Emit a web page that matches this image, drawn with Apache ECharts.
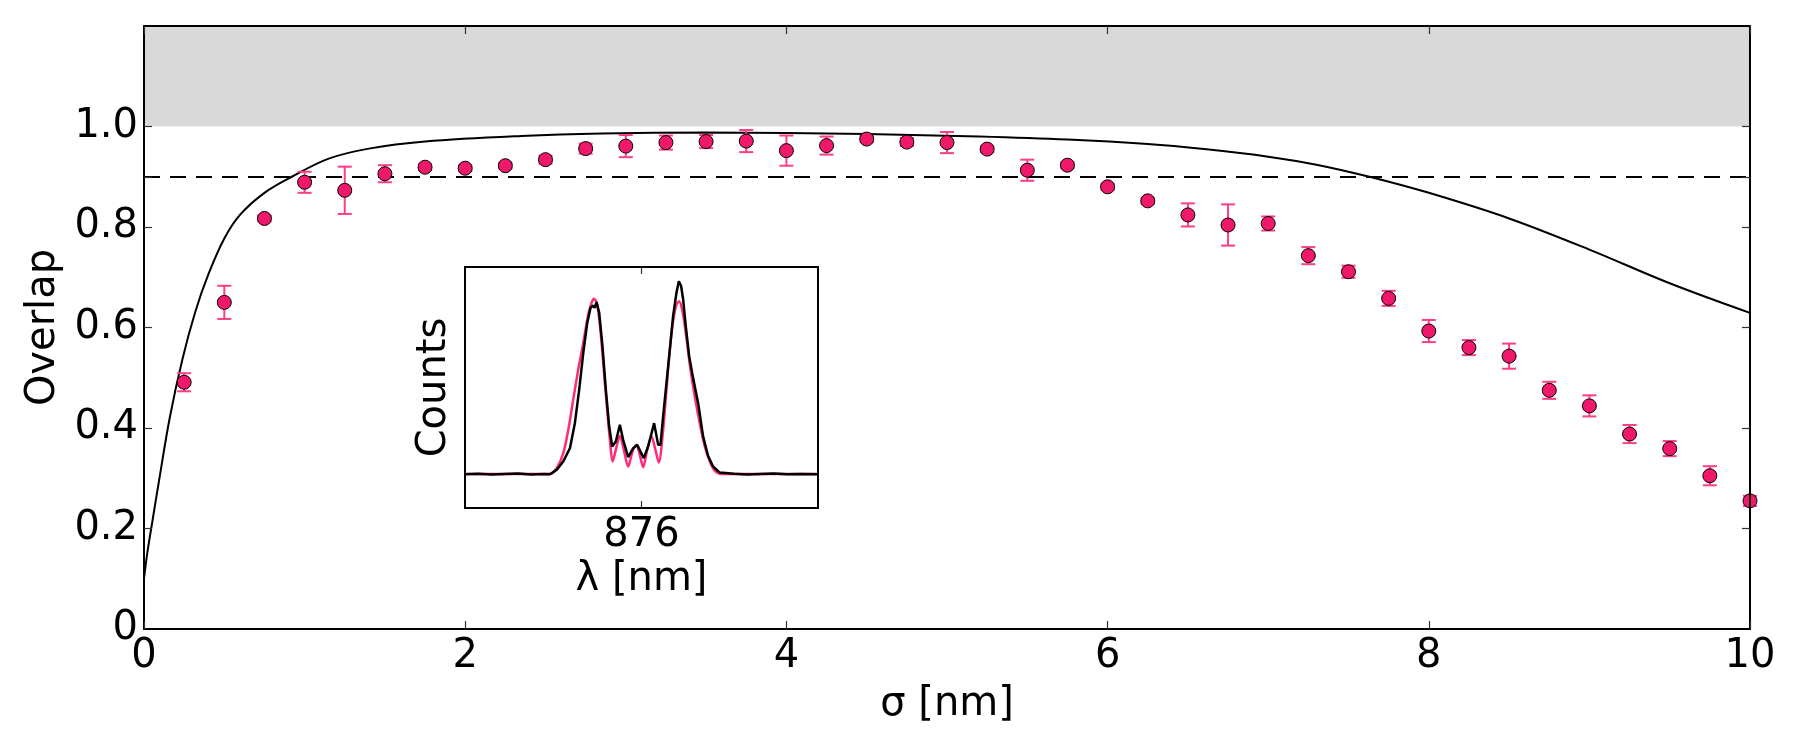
<!DOCTYPE html>
<html>
<head>
<meta charset="utf-8">
<script src="https://cdn.jsdelivr.net/npm/echarts@6/dist/echarts.min.js"></script>
<style>
  html, body { margin: 0; padding: 0; background: #fff; }
  #chart { width: 1800px; height: 750px; }
</style>
</head>
<body>
<div id="chart"></div>
<script>
// measured overlap vs sigma (with error bars)
var sigma = [0.25, 0.5, 0.75, 1.0, 1.25, 1.5, 1.75, 2.0, 2.25, 2.5, 2.75, 3.0, 3.25, 3.5, 3.75, 4.0, 4.25, 4.5, 4.75, 5.0,
             5.25, 5.5, 5.75, 6.0, 6.25, 6.5, 6.75, 7.0, 7.25, 7.5, 7.75, 8.0, 8.25, 8.5, 8.75, 9.0, 9.25, 9.5, 9.75, 10.0];
var overlap = [0.491, 0.650, 0.817, 0.889, 0.873, 0.906, 0.919, 0.917, 0.922, 0.934, 0.956, 0.961, 0.968, 0.970, 0.971, 0.952, 0.962, 0.975, 0.969, 0.968,
               0.955, 0.913, 0.923, 0.880, 0.852, 0.824, 0.804, 0.807, 0.743, 0.711, 0.658, 0.593, 0.560, 0.543, 0.475, 0.444, 0.388, 0.359, 0.305, 0.255];
var overlapErr = [0.018, 0.033, 0.006, 0.021, 0.047, 0.017, 0.006, 0.006, 0.006, 0.008, 0.010, 0.022, 0.014, 0.013, 0.022, 0.030, 0.018, 0.006, 0.008, 0.021,
                  0.006, 0.021, 0.006, 0.006, 0.006, 0.023, 0.041, 0.014, 0.017, 0.012, 0.015, 0.022, 0.015, 0.025, 0.017, 0.021, 0.018, 0.015, 0.019, 0.010];

// theory curve
var fitSigma = [0, 0.02, 0.05, 0.09, 0.16, 0.24, 0.32, 0.40, 0.50, 0.60, 0.75, 0.92, 1.15, 1.40, 1.75, 2.35, 2.85, 3.5, 4.0, 4.5,
                5.2, 5.75, 6.25, 6.6, 7.0, 7.3, 7.63, 8.0, 8.5, 9.0, 9.5, 10.0];
var fitOverlap = [0.100, 0.150, 0.210, 0.288, 0.420, 0.538, 0.632, 0.705, 0.777, 0.825, 0.868, 0.900, 0.936, 0.956, 0.970, 0.981, 0.986, 0.988, 0.987, 0.985,
                  0.980, 0.974, 0.965, 0.955, 0.940, 0.924, 0.900, 0.868, 0.817, 0.755, 0.688, 0.629];

var threshold = 0.9;
var bandLow = 1.0, bandHigh = 1.2;

// inset spectrum: fit (pink) and measured (black)
var lambdaFit = [874.0, 874.962, 875.038, 875.113, 875.170, 875.226, 875.283, 875.340, 875.396, 875.434, 875.460, 875.491, 875.528, 875.566,
                 875.604, 875.642, 875.672, 875.709, 875.755, 875.800, 875.849, 875.898, 875.943, 875.981, 876.019, 876.064, 876.113, 876.158,
                 876.196, 876.238, 876.283, 876.321, 876.358, 876.396, 876.426, 876.464, 876.509, 876.555, 876.604, 876.660, 876.717, 876.774,
                 876.830, 876.906, 878.0];
var countsFit = [0.141, 0.141, 0.165, 0.227, 0.324, 0.449, 0.574, 0.685, 0.803, 0.851, 0.868, 0.854, 0.761, 0.602,
                 0.435, 0.283, 0.193, 0.241, 0.300, 0.241, 0.172, 0.234, 0.262, 0.220, 0.169, 0.241, 0.297, 0.241,
                 0.189, 0.297, 0.491, 0.657, 0.775, 0.844, 0.858, 0.817, 0.706, 0.574, 0.463, 0.352, 0.255, 0.193,
                 0.155, 0.141, 0.141];
var lambdaMeas = [874.0, 874.15, 874.3, 874.45, 874.6, 874.75, 874.9, 874.962, 875.038, 875.113, 875.189, 875.245, 875.294, 875.340, 875.385,
                  875.423, 875.453, 875.468, 875.491, 875.521, 875.558, 875.596, 875.634, 875.668, 875.709, 875.755, 875.792,
                  875.849, 875.906, 875.951, 875.989, 876.026, 876.075, 876.143, 876.189, 876.215, 876.245, 876.283, 876.321,
                  876.358, 876.396, 876.423, 876.449, 876.472, 876.502, 876.540, 876.585, 876.642, 876.698, 876.755, 876.811,
                  876.887, 877.05, 877.2, 877.35, 877.5, 877.65, 877.8, 878.0];
var countsMeas = [0.140, 0.142, 0.139, 0.141, 0.143, 0.139, 0.141, 0.140, 0.158, 0.193, 0.248, 0.352, 0.491, 0.643, 0.768,
                  0.831, 0.840, 0.831, 0.854, 0.810, 0.671, 0.491, 0.338, 0.255, 0.276, 0.345, 0.283,
                  0.211, 0.248, 0.262, 0.234, 0.207, 0.255, 0.352, 0.262, 0.262, 0.380, 0.519, 0.657,
                  0.796, 0.893, 0.941, 0.921, 0.865, 0.754, 0.630, 0.539, 0.435, 0.297, 0.216, 0.172,
                  0.147, 0.142, 0.139, 0.141, 0.143, 0.140, 0.141, 0.140];

var pink = '#f0186b';
var errPink = '#ff3d88';
var font = 'DejaVu Sans';

function zip(a, b) { return a.map(function (v, i) { return [v, b[i]]; }); }

var points = zip(sigma, overlap);
var bars = sigma.map(function (s, i) { return [s, overlap[i] - overlapErr[i], overlap[i] + overlapErr[i]]; });

var chartDom = document.getElementById('chart');
var myChart = echarts.init(chartDom);
var option;

var tickStyle = { show: true, inside: true, length: 8, lineStyle: { color: '#333', width: 1.2 } };
var frameLine = { show: true, onZero: false, lineStyle: { color: '#000', width: 2 } };

option = {
    animation: false,
    backgroundColor: '#fff',
    textStyle: { fontFamily: font },
    grid: [
        { left: 144, right: 50, top: 26, bottom: 121 },
        { left: 465, top: 267, width: 353, height: 241, show: true, backgroundColor: '#fff', borderColor: '#000', borderWidth: 2, z: 5 }
    ],
    xAxis: [
        {
            type: 'value', gridIndex: 0, min: 0, max: 10, interval: 2,
            name: 'σ [nm]', nameLocation: 'middle', nameGap: 56,
            nameTextStyle: { fontSize: 40, color: '#000', fontFamily: font },
            axisLine: frameLine, axisTick: tickStyle, splitLine: { show: false },
            axisLabel: { fontSize: 40, color: '#000', fontFamily: font, margin: 8 },
            z: 10
        },
        {
            type: 'value', gridIndex: 0, min: 0, max: 10, interval: 2, position: 'top',
            axisLine: frameLine, axisTick: tickStyle, splitLine: { show: false },
            axisLabel: { show: false }, z: 10
        },
        {
            type: 'value', gridIndex: 1, min: 874, max: 878,
            name: 'λ [nm]', nameLocation: 'middle', nameGap: 52,
            nameTextStyle: { fontSize: 40, color: '#000', fontFamily: font },
            axisLine: { show: false },
            axisTick: { show: true, inside: true, length: 7, customValues: [876], lineStyle: { color: '#333', width: 1.2 } },
            axisLabel: { fontSize: 40, color: '#000', fontFamily: font, margin: 8, customValues: [876] },
            splitLine: { show: false }, z: 10
        },
        {
            type: 'value', gridIndex: 1, min: 874, max: 878, position: 'top',
            axisLine: { show: false },
            axisTick: { show: true, inside: true, length: 7, customValues: [876], lineStyle: { color: '#333', width: 1.2 } },
            axisLabel: { show: false }, splitLine: { show: false }, z: 10
        }
    ],
    yAxis: [
        {
            type: 'value', gridIndex: 0, min: 0, max: 1.2, interval: 0.2,
            name: 'Overlap', nameLocation: 'middle', nameGap: 80,
            nameTextStyle: { fontSize: 40, color: '#000', fontFamily: font },
            axisLine: frameLine,
            axisTick: { show: true, inside: true, length: 8, customValues: [0.2, 0.4, 0.6, 0.8, 0.9, 1.0], lineStyle: { color: '#333', width: 1.2 } },
            axisLabel: {
                fontSize: 40, color: '#000', fontFamily: font, margin: 6,
                formatter: function (v) { return v > 1.05 ? '' : (v === 0 ? '0' : v.toFixed(1)); }
            },
            splitLine: { show: false }, z: 10
        },
        {
            type: 'value', gridIndex: 0, min: 0, max: 1.2, interval: 0.2, position: 'right',
            axisLine: frameLine,
            axisTick: { show: true, inside: true, length: 8, customValues: [0.2, 0.4, 0.6, 0.8, 0.9, 1.0], lineStyle: { color: '#333', width: 1.2 } },
            axisLabel: { show: false }, splitLine: { show: false }, z: 10
        },
        {
            type: 'value', gridIndex: 1, min: 0, max: 1,
            name: 'Counts', nameLocation: 'middle', nameGap: 10,
            nameTextStyle: { fontSize: 40, color: '#000', fontFamily: font },
            axisLine: { show: false }, axisTick: { show: false }, axisLabel: { show: false }, splitLine: { show: false }
        }
    ],
    series: [
        {
            name: 'theory',
            type: 'line',
            xAxisIndex: 0, yAxisIndex: 0,
            data: zip(fitSigma, fitOverlap),
            showSymbol: false,
            smooth: 0.35,
            lineStyle: { color: '#000', width: 2 },
            markArea: {
                silent: true,
                itemStyle: { color: '#d9d9d9' },
                data: [[{ yAxis: bandLow }, { yAxis: bandHigh }]]
            },
            markLine: {
                silent: true,
                symbol: 'none',
                label: { show: false },
                lineStyle: { color: '#000', width: 2, type: [16, 10] },
                data: [{ yAxis: threshold }]
            },
            z: 3
        },
        {
            name: 'errors',
            type: 'custom',
            xAxisIndex: 0, yAxisIndex: 0,
            data: bars,
            encode: { x: 0, y: [1, 2] },
            renderItem: function (params, api) {
                var x = api.value(0);
                var top = api.coord([x, api.value(2)]);
                var bot = api.coord([x, api.value(1)]);
                var half = 7;
                var st = { stroke: errPink, lineWidth: 2 };
                return {
                    type: 'group',
                    children: [
                        { type: 'line', shape: { x1: top[0], y1: top[1], x2: bot[0], y2: bot[1] }, style: st },
                        { type: 'line', shape: { x1: top[0] - half, y1: top[1], x2: top[0] + half, y2: top[1] }, style: st },
                        { type: 'line', shape: { x1: bot[0] - half, y1: bot[1], x2: bot[0] + half, y2: bot[1] }, style: st }
                    ]
                };
            },
            z: 4
        },
        {
            name: 'measured',
            type: 'scatter',
            xAxisIndex: 0, yAxisIndex: 0,
            data: points,
            symbol: 'circle',
            symbolSize: 14,
            clip: true,
            itemStyle: { color: pink, borderColor: '#000', borderWidth: 1, opacity: 1 },
            z: 5
        },
        {
            name: 'fit spectrum',
            type: 'line',
            xAxisIndex: 2, yAxisIndex: 2,
            data: zip(lambdaFit, countsFit),
            showSymbol: false,
            smooth: 0.3,
            lineStyle: { color: '#ff2a7a', width: 2.5 },
            z: 6
        },
        {
            name: 'measured spectrum',
            type: 'line',
            xAxisIndex: 2, yAxisIndex: 2,
            data: zip(lambdaMeas, countsMeas),
            showSymbol: false,
            lineStyle: { color: '#000', width: 2.5 },
            z: 7
        }
    ]
};

option && myChart.setOption(option);
</script>
</body>
</html>
